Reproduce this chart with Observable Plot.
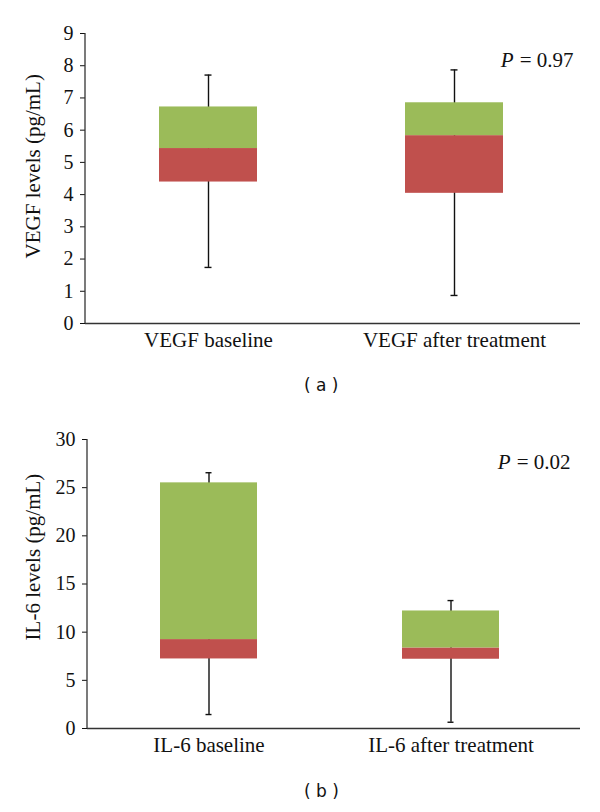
<!DOCTYPE html>
<html>
<head>
<meta charset="utf-8">
<script src="https://cdn.jsdelivr.net/npm/d3@7"></script>
<script src="https://cdn.jsdelivr.net/npm/@observablehq/plot@0.6"></script>
<style>
  body { margin: 0; background: #fff; }
  #wrap { position: relative; width: 600px; height: 812px; }
  .panel { position: absolute; left: 0; }
  .cap { position: absolute; font-family: "DejaVu Sans", Verdana, sans-serif; font-size: 17px; color: #111; }
</style>
</head>
<body>
<div id="wrap">
  <div id="top" class="panel" style="top:0"></div>
  <div class="cap" style="left:304px; top:375px;">( a )</div>
  <div id="bottom" class="panel" style="top:400px"></div>
  <div class="cap" style="left:304px; top:781px;">( b )</div>
</div>
<script>
// ---- Data ----
const vegfCats = ["VEGF baseline", "VEGF after treatment"];
const vegfMin = [1.74, 0.87];
const vegfQ1  = [4.39, 4.04];
const vegfMed = [5.43, 5.83];
const vegfQ3  = [6.72, 6.85];
const vegfMax = [7.71, 7.87];
const vegfTicks = [0, 1, 2, 3, 4, 5, 6, 7, 8, 9];
const vegfP = "0.97";

const il6Cats = ["IL-6 baseline", "IL-6 after treatment"];
const il6Min = [1.45, 0.65];
const il6Q1  = [7.22, 7.19];
const il6Med = [9.23, 8.36];
const il6Q3  = [25.5, 12.2];
const il6Max = [26.55, 13.28];
const il6Ticks = [0, 5, 10, 15, 20, 25, 30];
const il6P = "0.02";

const GREEN = "#9bbb59";
const RED = "#c0504d";
const SERIF = '"Liberation Serif", "DejaVu Serif", serif';

function build(cats, mn, q1, med, q3, mx, ticks, domainMax, yLabel, labelY, pval, opts) {
  const rows = cats.map((c, i) => ({cat: c, min: mn[i], q1: q1[i], med: med[i], q3: q3[i], max: mx[i]}));
  const chart = Plot.plot({
    width: 600,
    height: 370,
    marginTop: opts.mt,
    marginBottom: opts.mb,
    marginLeft: opts.ml,
    marginRight: 20,
    style: {fontFamily: SERIF, fontSize: "20px", color: "#111", background: "white"},
    x: {domain: cats, paddingInner: 0.6, paddingOuter: opts.po, align: opts.align, label: null},
    y: {domain: [0, domainMax], label: null},
    marks: [
      Plot.axisY({ticks: ticks, tickSize: 5, tickPadding: 7, fontSize: 20, label: null}),
      Plot.axisX({tickSize: 0, tickPadding: 9, fontSize: 21, label: null}),
      Plot.ruleX(rows, {x: "cat", y1: "min", y2: "max", stroke: "#111", strokeWidth: 1.4}),
      Plot.tickY(rows, {x: "cat", y: "max", stroke: "#111", strokeWidth: 1.4, insetLeft: 45.5, insetRight: 45.5}),
      Plot.tickY(rows, {x: "cat", y: "min", stroke: "#111", strokeWidth: 1.4, insetLeft: 45.5, insetRight: 45.5}),
      Plot.barY(rows, {x: "cat", y1: "q1", y2: "med", fill: RED}),
      Plot.barY(rows, {x: "cat", y1: "med", y2: "q3", fill: GREEN}),
      Plot.ruleY([0], {stroke: "#333", strokeWidth: 1.3}),
      Plot.text([yLabel], {text: d => d, y: [labelY], frameAnchor: "left", dx: -opts.ml + 33, rotate: -90, fontSize: 21, textAnchor: "middle", lineAnchor: "middle"}),
      Plot.text([" = " + pval], {text: d => d, frameAnchor: "top-right", dx: opts.pdx, dy: opts.pdy, fontSize: 21, textAnchor: "end", lineAnchor: "middle"}),
      Plot.text(["P"], {text: d => d, frameAnchor: "top-right", dx: opts.pdx - 60, dy: opts.pdy, fontSize: 21, fontStyle: "italic", textAnchor: "end", lineAnchor: "middle"})
    ]
  });
  // y-axis domain line, from the plot's own scales
  const ys = chart.scale("y");
  const xs = chart.scale("x");
  d3.select(chart).append("line")
    .attr("x1", xs.range[0]).attr("x2", xs.range[0])
    .attr("y1", ys.range[0]).attr("y2", ys.range[1])
    .attr("stroke", "#333").attr("stroke-width", 1.3);
  return chart;
}

document.getElementById("top").append(
  build(vegfCats, vegfMin, vegfQ1, vegfMed, vegfQ3, vegfMax, vegfTicks, 9,
        "VEGF levels (pg/mL)", 4.88, vegfP, {mt: 33, mb: 47, ml: 85, po: 0.306, align: 0.49, pdx: -7, pdy: 27})
);
document.getElementById("bottom").append(
  build(il6Cats, il6Min, il6Q1, il6Med, il6Q3, il6Max, il6Ticks, 30,
        "IL-6 levels (pg/mL)", 17.8, il6P, {mt: 39, mb: 42, ml: 87, po: 0.3175, align: 0.476, pdx: -10, pdy: 23})
);
</script>
</body>
</html>
